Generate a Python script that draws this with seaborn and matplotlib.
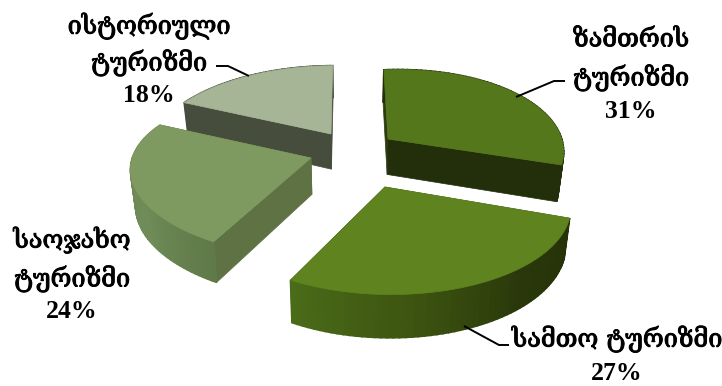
import numpy as np
import matplotlib
matplotlib.use("Agg")
import matplotlib.pyplot as plt
import matplotlib.patheffects as pe
import seaborn as sns

# clockwise from 12 o'clock
categories = ["ზამთრის\nტურიზმი", "სამთო ტურიზმი", "საოჯახო\nტურიზმი", "ისტორიული\nტურიზმი"]
shares = [31, 27, 24, 18]

# layout of each slice in pixels: apex, right axis, up axis
apex = [(388, 139), (385, 187), (311, 158), (331, 134)]
axis_right = [(171, -7), (180, -3), (178, 2), (177, -1)]
axis_up = [(-5, -83), (-10, -86), (-6, -80), (2, -82)]
persp = 0.2

top_colors = ["#55771b", "#5f831f", "#7f9a60", "#a6b596"]
arc_colors = [
    ["#222f0a", "#222f0a"],
    ["#263208", "#29380b", "#3d5410", "#4a6b18"],
    ["#5f7a48", "#6f8b57", "#6f8a58", "#7a945c"],
    ["#464d3c", "#464d3c"],
]
cut_colors = [("#2c3c0e", "#222f0a"), ("#3d5410", "#2a380c"), ("#5e7244", "#5e7244"), ("#464d3c", "#464d3c")]
draw_order = [3, 0, 2, 1]

label_pos = [[(631, 40), (631, 78), (631, 112)],
             [(617, 339), (617, 374)],
             [(72, 240), (72, 279), (72, 312)],
             [(149, 26), (149, 63), (149, 96)]]
leaders = [[(516, 97), (554, 81), (565, 81)],
           [(464, 326), (499, 345), (509, 345)],
           None,
           [(216, 66), (228, 66), (249, 76)]]


def project(i, theta):
    s, c = np.sin(theta), np.cos(theta)
    den = 1 + persp * c
    x = apex[i][0] + (axis_right[i][0] * s + axis_up[i][0] * c) / den
    y = apex[i][1] + (axis_right[i][1] * s + axis_up[i][1] * c) / den
    return x, y


def extrude(x, y):
    # side walls get a bit taller towards the viewer and lean to the middle
    return x - (x - 350) * 0.024, y + 35 + (y - 130) * 0.05


sns.set_theme(style="white")
fig, ax = plt.subplots(figsize=(7.22, 3.86), dpi=100)
fig.subplots_adjust(0, 0, 1, 1)
ax.set_xlim(0, 722)
ax.set_ylim(386, 0)
ax.axis("off")

edges = np.radians(np.concatenate([[0], np.cumsum(shares)]) * 3.6)

for i in draw_order:
    thetas = np.linspace(edges[i], edges[i + 1], 60)
    xs, ys = project(i, thetas)
    xb, yb = extrude(xs, ys)
    pal = sns.blend_palette(arc_colors[i], len(thetas) - 1)

    ax_, ay_ = apex[i]
    bx_, by_ = extrude(ax_, ay_)
    for k, idx in enumerate([0, -1]):
        ax.fill([ax_, xs[idx], xb[idx], bx_], [ay_, ys[idx], yb[idx], by_],
                color=cut_colors[i][k], lw=0.5)

    for j in range(len(thetas) - 1):
        ax.fill([xs[j], xs[j + 1], xb[j + 1], xb[j]], [ys[j], ys[j + 1], yb[j + 1], yb[j]],
                color=pal[j], lw=1.2)

    ax.fill(np.r_[ax_, xs], np.r_[ay_, ys], color=top_colors[i], lw=0.5)

geo_font = ["DejaVu Serif", "DejaVu Sans"]
for i, name in enumerate(categories):
    lines = name.split("\n")
    for line, (x, y) in zip(lines, label_pos[i]):
        ax.text(x, y, line, ha="center", va="center", fontsize=18.2, color="black", family=geo_font,
                path_effects=[pe.withStroke(linewidth=0.7, foreground="black")])
    x, y = label_pos[i][-1]
    ax.text(x, y, f"{shares[i]}%", ha="center", va="center", fontsize=18.5, color="black",
            family="Liberation Serif", fontweight="bold")
    if leaders[i] is not None:
        ax.plot(*zip(*leaders[i]), color="black", lw=1.4, solid_capstyle="butt")

plt.savefig("out.png", dpi=100, facecolor="white")
